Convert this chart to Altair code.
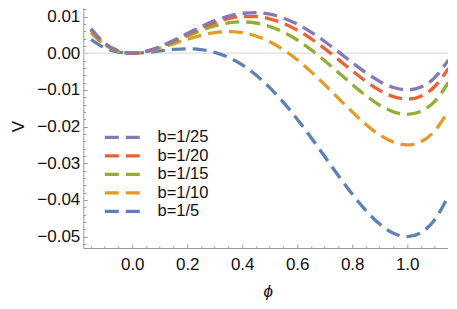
import altair as alt
import pandas as pd

# phi sample points
phi = [-0.15, -0.10, -0.05, 0.00, 0.05, 0.10, 0.15, 0.20, 0.25, 0.30, 0.35, 0.40, 0.45,
       0.50, 0.55, 0.60, 0.65, 0.70, 0.75, 0.80, 0.85, 0.90, 0.95, 1.00, 1.05, 1.10, 1.15]

v_b5 = [0.00373, 0.00143, 0.00030, 0.0, 0.00020, 0.00063, 0.00103, 0.00120, 0.00098, 0.00023,
        -0.00115, -0.00320, -0.00595, -0.00938, -0.01342, -0.01800, -0.02297, -0.02818, -0.03340,
        -0.03840, -0.04290, -0.04658, -0.04907, -0.05000, -0.04892, -0.04538, -0.03885]
v_b10 = [0.00558, 0.00223, 0.00050, 0.0, 0.00038, 0.00133, 0.00255, 0.00380, 0.00488, 0.00563,
         0.00590, 0.00560, 0.00468, 0.00313, 0.00095, -0.00180, -0.00502, -0.00858, -0.01230,
         -0.01600, -0.01942, -0.02228, -0.02425, -0.02500, -0.02412, -0.02118, -0.01570]
v_b15 = [0.00620, 0.00249, 0.00056, 0.0, 0.00044, 0.00156, 0.00305, 0.00467, 0.00618, 0.00743,
         0.00824, 0.00853, 0.00823, 0.00729, 0.00573, 0.00360, 0.00097, -0.00204, -0.00527,
         -0.00853, -0.01159, -0.01418, -0.01598, -0.01667, -0.01585, -0.01311, -0.00799]
v_b20 = [0.00651, 0.00263, 0.00059, 0.0, 0.00047, 0.00168, 0.00330, 0.00510, 0.00684, 0.00833,
         0.00942, 0.01000, 0.01000, 0.00938, 0.00813, 0.00630, 0.00396, 0.00123, -0.00176,
         -0.00480, -0.00768, -0.01013, -0.01185, -0.01250, -0.01171, -0.00908, -0.00413]
v_b25 = [0.00670, 0.00271, 0.00061, 0.0, 0.00049, 0.00175, 0.00346, 0.00536, 0.00723, 0.00887,
         0.01012, 0.01088, 0.01106, 0.01063, 0.00957, 0.00792, 0.00576, 0.00319, 0.00035,
         -0.00256, -0.00533, -0.00770, -0.00936, -0.01000, -0.00923, -0.00666, -0.00182]

series_names = ["b=1/5", "b=1/10", "b=1/15", "b=1/20", "b=1/25"]
series_vals = [v_b5, v_b10, v_b15, v_b20, v_b25]

legend_order = ["b=1/25", "b=1/20", "b=1/15", "b=1/10", "b=1/5"]
legend_colors = ["#8778B3", "#EB6235", "#8FB032", "#E19C24", "#5E81B5"]

x_major = [0.0, 0.2, 0.4, 0.6, 0.8, 1.0]
y_major = [-0.05, -0.04, -0.03, -0.02, -0.01, 0.0, 0.01]
x_all_ticks = [round(-0.15 + 0.05 * i, 4) for i in range(27)]
y_all_ticks = [round(-0.052 + 0.002 * i, 4) for i in range(34)]

rows = []
for name, vals in zip(series_names, series_vals):
    for p, v in zip(phi, vals):
        rows.append({"phi": p, "V": v, "b": name})
df = pd.DataFrame(rows)

W, H = 369, 248
FRAME = "#9a9a9a"
TXT = "#111111"
FONT = "Liberation Sans"

xscale = alt.Scale(domain=[-0.178, 1.164], nice=False, zero=False)
yscale = alt.Scale(domain=[-0.0531, 0.0145], nice=False, zero=False)

x_test = "abs(datum.value*5 - round(datum.value*5)) < 0.001"
y_test = "abs(datum.value*100 - round(datum.value*100)) < 0.001"


def tick_axis(orient, offset, values, test):
    return alt.Axis(orient=orient, offset=offset, values=values, labels=False,
                    domain=False, grid=False, title=None, ticks=True,
                    tickColor=FRAME, tickWidth=1,
                    tickSize={"condition": {"test": test, "value": 4}, "value": 2.3})


base = alt.Chart(df)

zero_line = alt.Chart(pd.DataFrame({"y": [0.0]})).mark_rule(
    color="#dcdcdc", strokeWidth=1.2
).encode(y=alt.Y("y:Q", scale=yscale, axis=None))

lines = base.mark_line(strokeWidth=3.3, strokeDash=[14, 7], interpolate="monotone").encode(
    x=alt.X("phi:Q", scale=xscale,
            axis=alt.Axis(orient="bottom", values=x_major, format=".1f", ticks=False, tickSize=0,
                          domain=False, grid=False, labelFont=FONT, labelFontSize=17,
                          labelColor=TXT, labelBaseline="alphabetic", labelPadding=21.5,
                          title="ϕ", titleFont=FONT, titleFontSize=17, titleFontStyle="italic",
                          titleFontWeight="normal", titleColor=TXT, titleBaseline="alphabetic",
                          titleY=48)),
    y=alt.Y("V:Q", scale=yscale,
            axis=alt.Axis(orient="left", values=y_major, format=".2f", ticks=False, tickSize=0,
                          domain=False, grid=False, labelFont=FONT, labelFontSize=17,
                          labelColor=TXT, labelPadding=3.5,
                          title="V", titleFont=FONT, titleFontSize=17, titleFontWeight="normal",
                          titleColor=TXT, titleAngle=-90, titleBaseline="alphabetic",
                          titleAlign="center", titleX=-60.3, titleY=126)),
    color=alt.Color("b:N", scale=alt.Scale(domain=legend_order, range=legend_colors),
                    legend=alt.Legend(orient="none", legendX=31, legendY=129.2, title=None,
                                      symbolType="M-3.55,0H3.55", symbolSize=100,
                                      symbolStrokeWidth=3.3, symbolDash=[14, 7],
                                      symbolFillColor="transparent",
                                      labelFont=FONT, labelFontSize=16.5, labelColor=TXT,
                                      labelOffset=26.7, rowPadding=1.5, padding=0,
                                      symbolOffset=0)),
)

ticks_a = base.mark_point(opacity=0, size=0).encode(
    x=alt.X("phi:Q", scale=xscale, axis=tick_axis("top", -H, x_all_ticks, x_test)),
    y=alt.Y("V:Q", scale=yscale, axis=tick_axis("right", -W, y_all_ticks, y_test)),
)
ticks_b = base.mark_point(opacity=0, size=0).encode(
    x=alt.X("phi:Q", scale=xscale, axis=tick_axis("bottom", -H, x_all_ticks, x_test)),
    y=alt.Y("V:Q", scale=yscale, axis=tick_axis("left", -W, y_all_ticks, y_test)),
)

chart = alt.layer(zero_line, lines, ticks_a, ticks_b).resolve_axis(
    x="independent", y="independent"
).properties(
    width=W, height=H,
    autosize=alt.AutoSizeParams(type="none"),
    padding={"left": 75.3, "top": -8, "right": -4.3, "bottom": 52},
    background="white",
).configure_view(stroke=FRAME, strokeWidth=1)

chart.save("out.html", embed_options={"renderer": "svg", "actions": False})
